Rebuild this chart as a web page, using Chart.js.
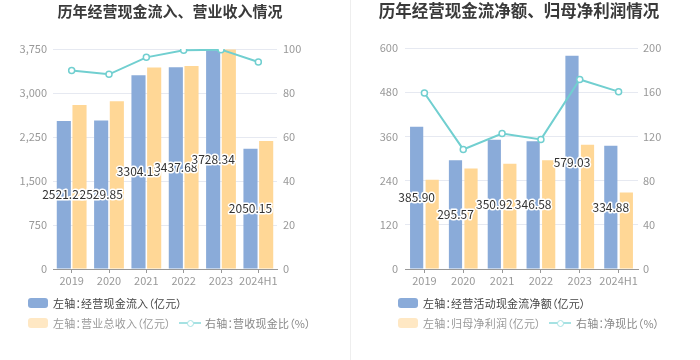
<!DOCTYPE html>
<html><head><meta charset="utf-8">
<script src="https://cdn.jsdelivr.net/npm/chart.js@4/dist/chart.umd.min.js"></script>
<style>
html,body{margin:0;padding:0;background:#fff;}
body{width:700px;height:360px;position:relative;overflow:hidden;font-family:"Noto Sans CJK SC","Noto Sans",sans-serif;}
canvas{position:absolute;top:0;}
.title{position:absolute;top:1px;font-size:15px;font-weight:bold;color:#3a3a3a;white-space:nowrap;transform:translateX(-50%);line-height:20px;}
.lg{position:absolute;font-size:11px;white-space:nowrap;line-height:14px;font-feature-settings:"palt";letter-spacing:0.2px;}
.box{position:absolute;width:20px;height:10px;border-radius:3px;}
.ln{position:absolute;width:22px;height:2px;}
.dot{position:absolute;width:7px;height:7px;border-radius:50%;background:#fff;box-sizing:border-box;border:1.5px solid;}
.divider{position:absolute;left:350px;top:0;width:1px;height:360px;background:#eeeeee;}
</style>
</head><body>
<canvas id="c1" width="350" height="360" style="left:0"></canvas>
<canvas id="c2" width="350" height="360" style="left:350px"></canvas>
<div class="divider"></div>
<div id="overlay"></div>
<script>
// ---- data ----
const categories = ['2019','2020','2021','2022','2023','2024H1'];
// left chart
const cashInflow = [2521.23, 2529.85, 3304.15, 3437.68, 3728.34, 2050.15];
const revenue = [2795, 2860, 3436, 3460, 3740, 2180];
const cashRatio = [90.2, 88.5, 96.2, 99.4, 99.7, 94.1];
const leftTicks = [0, 750, 1500, 2250, 3000, 3750];
const leftRightTicks = [0, 20, 40, 60, 80, 100];
// right chart
const netCashFlow = [385.90, 295.57, 350.92, 346.58, 579.03, 334.88];
const netProfit = [242, 273, 286, 295, 337, 208];
const netCashRatio = [159.3, 108.2, 122.6, 117.3, 171.5, 160.5];
const rightTicks = [0, 120, 240, 360, 480, 600];
const rightRightTicks = [0, 40, 80, 120, 160, 200];
const titles = ['历年经营现金流入、营业收入情况', '历年经营现金流净额、归母净利润情况'];
const names1 = ['左轴：经营现金流入（亿元）', '左轴：营业总收入（亿元）', '右轴：营收现金比（%）'];
const names2 = ['左轴：经营活动现金流净额（亿元）', '左轴：归母净利润（亿元）', '右轴：净现比（%）'];

const BLUE = '#8aabd9', ORANGE = '#ffd796', TEAL = '#71cfd0';
const FONT = '"Noto Sans CJK SC","Noto Sans",sans-serif';

const labelPlugin = {
  id: 'barLabels',
  afterDraw(chart) {
    const ctx = chart.ctx;
    const meta = chart.getDatasetMeta(0);
    const data = chart.data.datasets[0].data;
    ctx.save();
    ctx.font = '12px ' + FONT;
    ctx.textAlign = 'center';
    ctx.textBaseline = 'middle';
    ctx.lineJoin = 'round';
    meta.data.forEach((el, i) => {
      const y = (el.y + el.base) / 2;
      const t = data[i].toFixed(2);
      ctx.strokeStyle = '#fff';
      ctx.lineWidth = 3;
      ctx.strokeText(t, el.x, y);
      ctx.fillStyle = '#333';
      ctx.fillText(t, el.x, y);
    });
    ctx.restore();
  }
};

function makeChart(id, bars1, bars2, line, names, lTicks, rTicks, geo) {
  const lmax = lTicks[lTicks.length - 1], rmax = rTicks[rTicks.length - 1];
  return new Chart(document.getElementById(id), {
    data: {
      labels: categories,
      datasets: [
        { type: 'bar', label: names[0], data: bars1, backgroundColor: BLUE, yAxisID: 'y', order: 2,
          categoryPercentage: geo.cp, barPercentage: geo.bp },
        { type: 'bar', label: names[1], data: bars2, backgroundColor: ORANGE, yAxisID: 'y', order: 2,
          categoryPercentage: geo.cp, barPercentage: geo.bp },
        { type: 'line', label: names[2], data: line, borderColor: TEAL, borderWidth: 2, yAxisID: 'y1', order: 1,
          pointRadius: 3, pointBackgroundColor: '#fff', pointBorderColor: TEAL, pointBorderWidth: 1.5, tension: 0 }
      ]
    },
    options: {
      responsive: false, animation: false, devicePixelRatio: 1,
      layout: { padding: { top: geo.top, left: 0, right: 0, bottom: 0 } },
      plugins: { legend: { display: false }, title: { display: false }, tooltip: { enabled: false } },
      scales: {
        x: {
          offset: true,
          grid: { offset: false, drawOnChartArea: false, drawTicks: true, tickLength: 4, color: '#999' },
          border: { display: true, color: '#999' },
          ticks: { color: '#999', font: { size: 11, family: FONT }, padding: 1, maxRotation: 0, autoSkip: false },
          afterFit(s) { s.height = 360 - geo.bottom; }
        },
        y: {
          position: 'left', min: 0, max: lmax,
          afterBuildTicks(s) { s.ticks = lTicks.map(v => ({ value: v })); },
          ticks: { color: '#999', font: { size: 11, family: FONT }, padding: geo.lpad,
                   callback: v => v.toLocaleString('en-US') },
          grid: { color: '#e6e9f1', drawTicks: false },
          border: { display: false },
          afterFit(s) { s.width = geo.left; }
        },
        y1: {
          position: 'right', min: 0, max: rmax,
          afterBuildTicks(s) { s.ticks = rTicks.map(v => ({ value: v })); },
          ticks: { color: '#999', font: { size: 11, family: FONT }, padding: geo.rpad },
          grid: { display: false, drawTicks: false },
          border: { display: false },
          afterFit(s) { s.width = 350 - geo.right; }
        }
      }
    },
    plugins: [labelPlugin]
  });
}

makeChart('c1', cashInflow, revenue, cashRatio, names1, leftTicks, leftRightTicks,
  { top: 49, bottom: 269, left: 53, right: 277, lpad: 6, rpad: 6, cp: 0.84, bp: 0.9 });
makeChart('c2', netCashFlow, netProfit, netCashRatio, names2, rightTicks, rightRightTicks,
  { top: 48, bottom: 269, left: 55, right: 288, lpad: 7, rpad: 5, cp: 0.8, bp: 0.85 });

// ---- titles and legends (HTML) ----
const ov = document.getElementById('overlay');
function add(html) { ov.insertAdjacentHTML('beforeend', html); }
add(`<div class="title" style="left:170px">${titles[0]}</div>`);
add(`<div class="title" style="left:519px;font-size:16.5px;top:0px">${titles[1]}</div>`);
function legend(x0, names, lineX, textX2) {
  add(`<div class="box" style="left:${x0}px;top:298px;background:${BLUE}"></div>`);
  add(`<div class="lg" style="left:${x0 + 25}px;top:296px;color:#444">${names[0]}</div>`);
  add(`<div class="box" style="left:${x0}px;top:318px;background:#ffe8c4"></div>`);
  add(`<div class="lg" style="left:${x0 + 25}px;top:316px;color:#999">${names[1]}</div>`);
  add(`<div class="ln" style="left:${lineX}px;top:322px;background:#a6e2e3"></div>`);
  add(`<div class="dot" style="left:${lineX + 7.5}px;top:319.5px;border-color:#a6e2e3"></div>`);
  add(`<div class="lg" style="left:${textX2}px;top:316px;color:#888">${names[2]}</div>`);
}
legend(28, names1, 179, 205);
legend(398, names2, 549, 576);
</script>
</body></html>
